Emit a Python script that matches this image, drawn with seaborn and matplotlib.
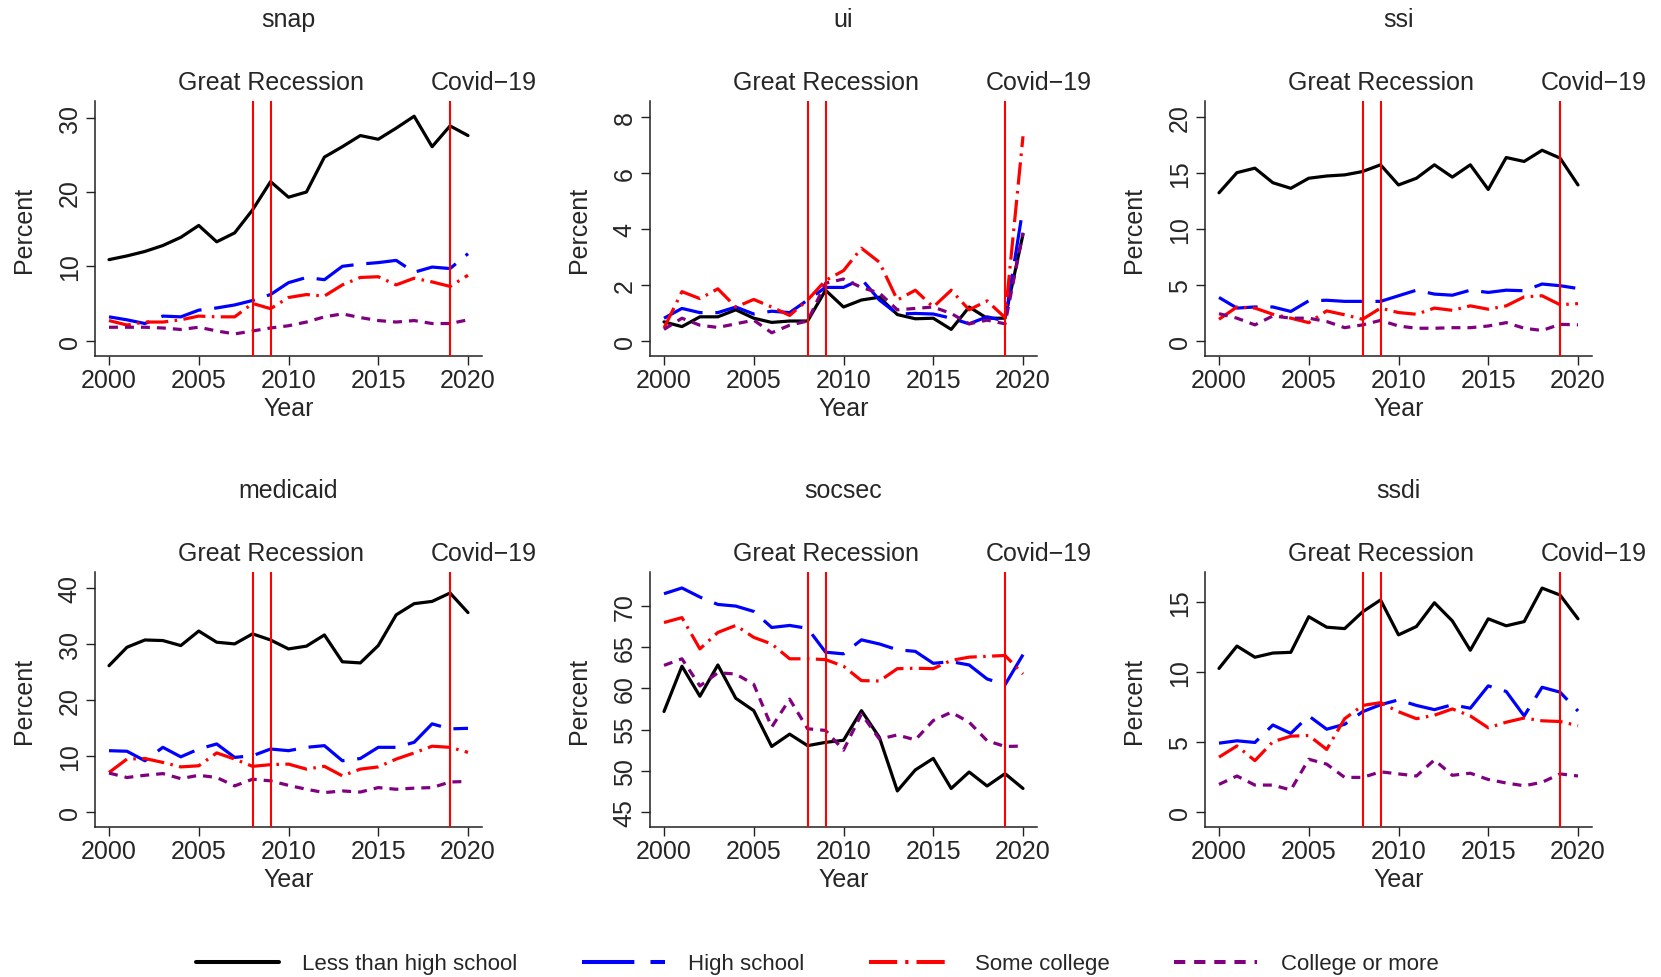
import numpy as np
import pandas as pd
import matplotlib
matplotlib.use("Agg")
import matplotlib.pyplot as plt
import matplotlib.transforms as mtransforms
from matplotlib.lines import Line2D
import seaborn as sns

years = list(range(2000, 2021))
groups = ["Less than high school", "High school", "Some college", "College or more"]
programs = ["snap", "ui", "ssi", "medicaid", "socsec", "ssdi"]

snap_lths = [10.9, 11.4, 12.0, 12.8, 13.9, 15.5, 13.3, 14.5, 17.6, 21.4, 19.3, 20.0, 24.7, 26.1, 27.6, 27.1, 28.6, 30.2, 26.1, 28.9, 27.6]
snap_hs = [3.2, 2.8, 2.3, 3.3, 3.2, 4.1, 4.4, 4.8, 5.4, 6.2, 7.8, 8.5, 8.2, 10.0, 10.3, 10.5, 10.8, 9.2, 9.9, 9.7, 11.7]
snap_sc = [2.7, 2.1, 2.5, 2.5, 2.8, 3.3, 3.2, 3.2, 5.0, 4.3, 5.8, 6.2, 6.0, 7.5, 8.5, 8.6, 7.5, 8.4, 7.9, 7.3, 8.8]
snap_col = [1.8, 1.8, 1.8, 1.7, 1.5, 1.8, 1.3, 0.9, 1.3, 1.7, 2.0, 2.5, 3.2, 3.6, 3.1, 2.7, 2.5, 2.7, 2.3, 2.3, 2.8]

ui_lths = [0.67, 0.5, 0.85, 0.85, 1.1, 0.8, 0.65, 0.7, 0.7, 1.8, 1.2, 1.45, 1.55, 0.93, 0.78, 0.8, 0.4, 1.2, 0.8, 0.8, 3.8]
ui_hs = [0.8, 1.15, 1.0, 1.0, 1.2, 0.95, 1.05, 1.0, 1.45, 1.9, 1.9, 2.2, 1.45, 0.95, 0.97, 0.95, 0.8, 0.6, 0.85, 0.7, 4.75]
ui_sc = [0.45, 1.75, 1.5, 1.85, 1.2, 1.47, 1.2, 0.9, 1.45, 2.15, 2.5, 3.3, 2.8, 1.45, 1.8, 1.2, 1.8, 1.1, 1.42, 0.82, 7.3]
ui_col = [0.4, 0.8, 0.55, 0.47, 0.6, 0.73, 0.28, 0.55, 0.7, 2.05, 2.2, 1.9, 1.7, 1.1, 1.15, 1.2, 0.97, 0.6, 0.73, 0.6, 3.85]

ssi_lths = [13.2, 15.0, 15.4, 14.1, 13.6, 14.5, 14.7, 14.8, 15.1, 15.7, 13.9, 14.5, 15.7, 14.6, 15.7, 13.5, 16.35, 16.0, 17.0, 16.3, 13.9]
ssi_hs = [3.85, 2.9, 3.0, 3.0, 2.6, 3.55, 3.6, 3.5, 3.5, 3.5, 4.0, 4.5, 4.15, 4.05, 4.5, 4.3, 4.5, 4.45, 5.05, 4.9, 4.65]
ssi_sc = [1.9, 3.0, 2.9, 2.35, 2.0, 1.6, 2.65, 2.3, 1.9, 2.9, 2.5, 2.35, 2.9, 2.7, 3.1, 2.8, 3.1, 3.9, 4.0, 3.2, 3.3]
ssi_col = [2.4, 2.0, 1.4, 2.2, 2.0, 2.0, 1.7, 1.15, 1.4, 1.8, 1.3, 1.1, 1.1, 1.15, 1.15, 1.3, 1.6, 1.1, 0.9, 1.45, 1.4]

medicaid_lths = [26.1, 29.4, 30.7, 30.6, 29.7, 32.3, 30.3, 30.0, 31.8, 30.7, 29.1, 29.6, 31.6, 26.8, 26.6, 29.7, 35.2, 37.2, 37.6, 39.1, 35.6]
medicaid_hs = [10.9, 10.8, 9.1, 11.5, 9.8, 11.2, 12.1, 9.7, 10.0, 11.2, 10.9, 11.5, 11.8, 9.1, 9.5, 11.5, 11.5, 12.4, 15.7, 14.8, 14.9]
medicaid_sc = [7.0, 9.4, 9.5, 8.8, 8.0, 8.2, 10.5, 9.4, 8.1, 8.4, 8.5, 7.6, 8.1, 6.4, 7.6, 8.0, 9.4, 10.5, 11.7, 11.5, 10.6]
medicaid_col = [6.9, 6.1, 6.5, 6.8, 5.9, 6.5, 6.1, 4.6, 5.8, 5.5, 4.7, 4.0, 3.4, 3.7, 3.5, 4.3, 4.0, 4.2, 4.3, 5.3, 5.4]

socsec_lths = [57.2, 62.7, 59.05, 62.85, 58.8, 57.3, 52.95, 54.45, 53.05, 53.45, 53.7, 57.3, 54.05, 47.55, 50.1, 51.5, 47.85, 49.85, 48.15, 49.65, 47.85]
socsec_hs = [71.5, 72.2, 71.1, 70.2, 70.0, 69.35, 67.4, 67.65, 67.3, 64.4, 64.2, 65.9, 65.4, 64.7, 64.5, 63.05, 63.25, 62.85, 61.15, 60.45, 64.1]
socsec_sc = [68.0, 68.6, 64.8, 66.8, 67.65, 66.2, 65.4, 63.6, 63.6, 63.5, 62.7, 60.95, 60.9, 62.4, 62.45, 62.4, 63.4, 63.8, 63.9, 64.0, 61.75]
socsec_col = [62.8, 63.6, 60.3, 61.9, 61.75, 60.5, 55.3, 58.7, 55.1, 54.9, 52.5, 56.9, 53.85, 54.35, 53.75, 56.1, 57.1, 55.9, 53.65, 52.95, 53.0]

ssdi_lths = [10.25, 11.85, 11.05, 11.35, 11.4, 13.95, 13.2, 13.1, 14.3, 15.15, 12.65, 13.25, 14.95, 13.65, 11.55, 13.8, 13.3, 13.6, 16.0, 15.5, 13.8]
ssdi_hs = [4.9, 5.07, 4.95, 6.2, 5.6, 6.85, 5.9, 6.25, 7.15, 7.65, 8.0, 7.6, 7.3, 7.65, 7.4, 9.0, 8.6, 6.85, 8.9, 8.55, 7.2]
ssdi_sc = [3.9, 4.7, 3.65, 5.0, 5.4, 5.45, 4.45, 6.65, 7.6, 7.8, 7.15, 6.65, 6.9, 7.35, 6.85, 6.0, 6.4, 6.7, 6.5, 6.45, 6.15]
ssdi_col = [1.95, 2.55, 1.9, 1.9, 1.55, 3.75, 3.4, 2.45, 2.45, 2.85, 2.7, 2.55, 3.7, 2.6, 2.75, 2.3, 2.05, 1.85, 2.1, 2.7, 2.55]

yticks = {
    "snap": [0, 10, 20, 30],
    "ui": [0, 2, 4, 6, 8],
    "ssi": [0, 5, 10, 15, 20],
    "medicaid": [0, 10, 20, 30, 40],
    "socsec": [45, 50, 55, 60, 65, 70],
    "ssdi": [0, 5, 10, 15],
}
ylims = {
    "snap": (-2.07, 32.25),
    "ui": (-0.55, 8.56),
    "ssi": (-1.38, 21.4),
    "medicaid": (-2.75, 42.86),
    "socsec": (43.17, 74.14),
    "ssdi": (-1.1, 17.15),
}
xticks = [2000, 2005, 2010, 2015, 2020]
events = [2008, 2009, 2019]
event_labels = [("Great Recession", 2009.0), ("Covid\u221219", 2020.85)]

series = {
    "snap": [snap_lths, snap_hs, snap_sc, snap_col],
    "ui": [ui_lths, ui_hs, ui_sc, ui_col],
    "ssi": [ssi_lths, ssi_hs, ssi_sc, ssi_col],
    "medicaid": [medicaid_lths, medicaid_hs, medicaid_sc, medicaid_col],
    "socsec": [socsec_lths, socsec_hs, socsec_sc, socsec_col],
    "ssdi": [ssdi_lths, ssdi_hs, ssdi_sc, ssdi_col],
}

rows = []
for p in programs:
    for g, vals in zip(groups, series[p]):
        for y, v in zip(years, vals):
            rows.append({"program": p, "group": g, "Year": y, "Percent": v})
df = pd.DataFrame(rows)

sns.set_style("white")
plt.rcParams["font.family"] = ["Liberation Sans", "DejaVu Sans"]
FS = 18
LFS = 16

palette = {"Less than high school": "#000000", "High school": "#0000FF",
           "Some college": "#FF0000", "College or more": "#800080"}
dashes = {"Less than high school": "",
          "High school": (13, 4),
          "Some college": (7, 2, 0.8, 2),
          "College or more": (2.8, 2.2)}
LW = 2.3

fig = plt.figure(figsize=(16.61, 9.78), dpi=100)
W, H = 1661, 978
lefts = [95, 650, 1205]
tops = [102, 573]
aw, ah = 387, 255

for i, p in enumerate(programs):
    r, c = divmod(i, 3)
    ax = fig.add_axes([lefts[c] / W, 1 - (tops[r] + ah) / H, aw / W, ah / H])
    sub = df[df["program"] == p]
    sns.lineplot(data=sub, x="Year", y="Percent", hue="group", style="group",
                 palette=palette, dashes=dashes, hue_order=groups, style_order=groups,
                 linewidth=LW, legend=False, ax=ax)
    for e in events:
        ax.axvline(e, color="#FF0000", lw=1.5, zorder=5)
    ax.set_xlim(1999.22, 2020.78)
    ax.set_ylim(*ylims[p])
    ax.set_xticks(xticks)
    ax.set_yticks(yticks[p])
    for s in ["top", "right"]:
        ax.spines[s].set_visible(False)
    for s in ["left", "bottom"]:
        ax.spines[s].set_linewidth(1.1)
        ax.spines[s].set_color("#222222")
    ax.tick_params(axis="both", direction="out", length=6.5, width=1.0,
                   labelsize=FS, color="#222222", left=True, bottom=True)
    ax.tick_params(axis="x", pad=2)
    ax.tick_params(axis="y", pad=3, labelrotation=90)
    for lab in ax.get_yticklabels():
        lab.set_va("center")
    ax.set_xlabel("Year", fontsize=FS)
    ax.set_ylabel("Percent", fontsize=FS)
    ax.xaxis.set_label_coords(0.5, -0.205)
    ax.xaxis.label.set_va("center")
    ax.yaxis.set_label_coords(-71 / aw, 0.5)
    ax.yaxis.label.set_va("center")
    ax.text(0.5, 1.32, p, transform=ax.transAxes, ha="center", va="center", fontsize=FS)
    trans = mtransforms.blended_transform_factory(ax.transData, ax.transAxes)
    for txt, xv in event_labels:
        ax.text(xv, 1.075, txt, transform=trans, ha="center", va="center", fontsize=FS)

handles = [Line2D([0], [0], color=palette[g], lw=LW + 0.6,
                  linestyle=(0, dashes[g]) if dashes[g] else "-") for g in groups]
fig.legend(handles, groups, loc="center", bbox_to_anchor=(0.492, 1 - 965 / H), ncol=4,
           frameon=False, fontsize=LFS, handlelength=3.73, handletextpad=1.05,
           columnspacing=2.9)

fig.savefig("out.png", dpi=100)
